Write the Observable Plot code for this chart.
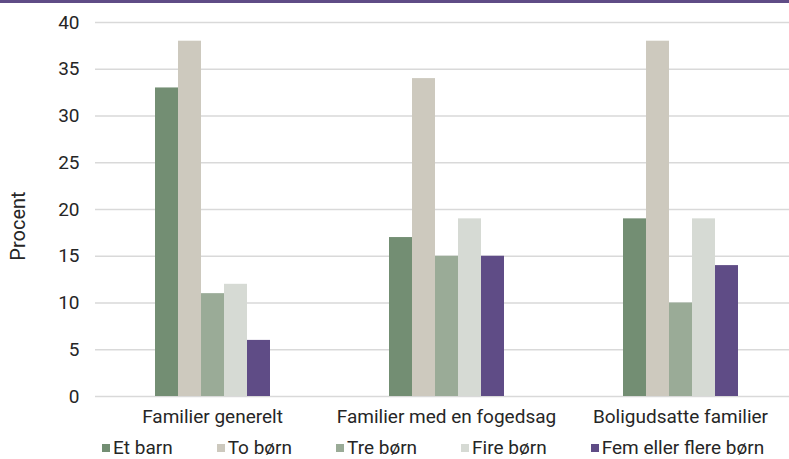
<!DOCTYPE html>
<html>
<head>
<meta charset="utf-8">
<script src="https://cdn.jsdelivr.net/npm/d3@7"></script>
<script src="https://cdn.jsdelivr.net/npm/@observablehq/plot@0.6"></script>
<style>
  body { margin: 0; background: #fff; font-family: Roboto, sans-serif; }
  #wrap { position: relative; width: 789px; height: 459px; }
  #topbar { position: absolute; left: 0; top: 0; width: 789px; height: 3px; background: #5f4c86; }
  #chart { position: absolute; left: 0; top: 0; }
  #ylabel { position: absolute; left: 18px; top: 226px; transform: translate(-50%, -50%) rotate(-90deg);
            font-size: 20px; line-height: 20px; color: #262626; white-space: nowrap; }
  #legend { position: absolute; left: 102px; top: 438px; display: flex; gap: 44px; font-size: 19px; line-height: 19px; color: #262626; }
  .item { display: flex; align-items: center; white-space: nowrap; }
  .sw { width: 8px; height: 8px; margin-right: 3px; }
</style>
</head>
<body>
<div id="wrap">
  <div id="chart"></div>
  <div id="topbar"></div>
  <div id="ylabel">Procent</div>
  <div id="legend"></div>
</div>
<script>
const categories = ["Familier generelt", "Familier med en fogedsag", "Boligudsatte familier"];
const series = ["Et barn", "To børn", "Tre børn", "Fire børn", "Fem eller flere børn"];
const etBarn = [33, 17, 19];
const toBorn = [38, 34, 38];
const treBorn = [11, 15, 10];
const fireBorn = [12, 19, 19];
const femBorn = [6, 15, 14];
const yTicks = [0, 5, 10, 15, 20, 25, 30, 35, 40];
const colors = ["#738e73", "#cdc9be", "#9aab97", "#d6dad4", "#5f4c86"];

const valuesBySeries = [etBarn, toBorn, treBorn, fireBorn, femBorn];
const data = [];
categories.forEach((c, ci) => {
  series.forEach((s, si) => data.push({cat: c, series: s, value: valuesBySeries[si][ci]}));
});

const plot = Plot.plot({
  width: 789,
  height: 436,
  marginTop: 22,
  marginBottom: 40,
  marginLeft: 95,
  marginRight: 0,
  style: {fontFamily: "Roboto, sans-serif", fontSize: "19px", color: "#262626", background: "transparent"},
  fx: {domain: categories, range: [95, 797], padding: 0, label: null, tickSize: 0, tickPadding: 13},
  x: {domain: series, paddingInner: 0, paddingOuter: 2.5, axis: null},
  y: {domain: [0, 40], ticks: yTicks, label: null, tickSize: 0, tickPadding: 16},
  color: {domain: series, range: colors},
  marks: [
    Plot.gridY(yTicks, {stroke: "#d9d9d9", strokeOpacity: 1, strokeWidth: 1.5}),
    Plot.barY(data, {fx: "cat", x: "series", y: "value", fill: "series", inset: 0})
  ]
});
document.getElementById("chart").appendChild(plot);

const legend = document.getElementById("legend");
series.forEach((s, i) => {
  const item = document.createElement("div");
  item.className = "item";
  const sw = document.createElement("span");
  sw.className = "sw";
  sw.style.background = colors[i];
  const t = document.createElement("span");
  t.textContent = s;
  item.appendChild(sw);
  item.appendChild(t);
  legend.appendChild(item);
});
</script>
</body>
</html>
